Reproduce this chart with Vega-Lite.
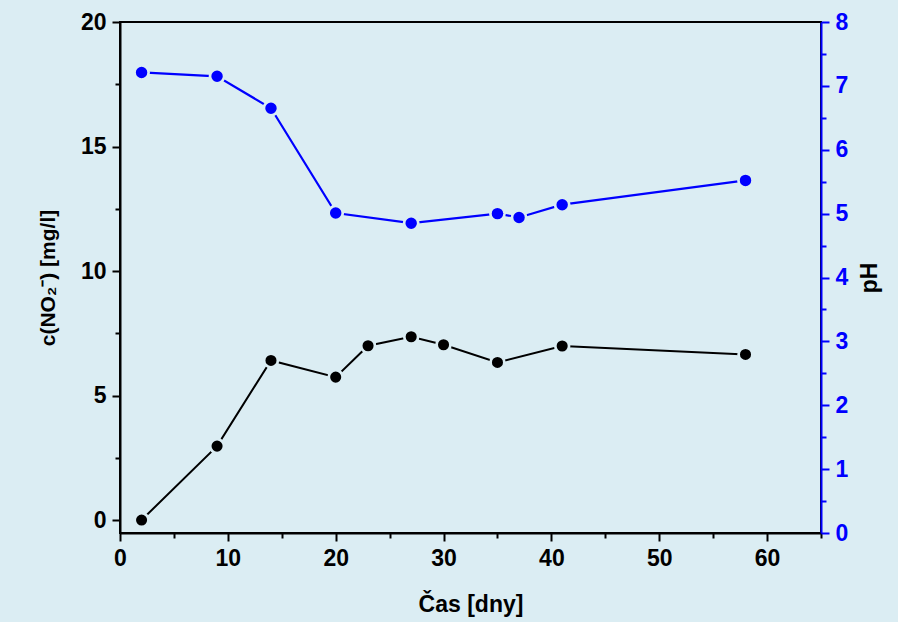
{
  "$schema": "https://vega.github.io/schema/vega-lite/v6.json",
  "width": 701,
  "height": 511,
  "autosize": {"type": "none"},
  "padding": {"left": 120, "top": 22, "right": 77, "bottom": 89},
  "background": "#dbedf3",
  "config": {
    "font": "Liberation Sans",
    "view": {"stroke": "black", "strokeWidth": 2},
    "axis": {
      "grid": false,
      "labelFont": "Liberation Sans",
      "labelFontWeight": "bold",
      "labelFontSize": 23,
      "titleFont": "Liberation Sans",
      "titleFontWeight": "bold",
      "titleFontSize": 23,
      "titleColor": "black",
      "domainWidth": 2,
      "tickWidth": 2,
      "labelOverlap": false,
      "labelFlush": false
    }
  },
  "data": {
    "values": [
      {"day": 2, "no2": 0.0, "ph": 7.21},
      {"day": 9, "no2": 2.97, "ph": 7.15},
      {"day": 14, "no2": 6.41, "ph": 6.65},
      {"day": 20, "no2": 5.74, "ph": 5.01},
      {"day": 23, "no2": 7.0, "ph": null},
      {"day": 27, "no2": 7.36, "ph": 4.85},
      {"day": 30, "no2": 7.04, "ph": null},
      {"day": 35, "no2": 6.33, "ph": 5.0},
      {"day": 37, "no2": null, "ph": 4.94},
      {"day": 41, "no2": 6.99, "ph": 5.14},
      {"day": 58, "no2": 6.65, "ph": 5.52}
    ]
  },
  "encoding": {
    "x": {
      "field": "day",
      "type": "quantitative",
      "scale": {"domain": [0, 65], "nice": false, "zero": false},
      "axis": {
        "title": "Čas [dny]",
        "format": ".0f",
        "values": [0, 5, 10, 15, 20, 25, 30, 35, 40, 45, 50, 55, 60, 65],
        "labelExpr": "datum.value % 10 === 0 ? datum.label : ''",
        "tickSize": {"condition": {"test": "datum.value % 10 === 0", "value": 8}, "value": 5},
        "domainColor": "black",
        "tickColor": "black",
        "labelColor": "black",
        "labelPadding": 6,
        "titlePadding": 23
      }
    }
  },
  "layer": [
    {
      "transform": [{"filter": "isValid(datum.no2)"}],
      "encoding": {
        "y": {
          "field": "no2",
          "type": "quantitative",
          "scale": {"domain": [-0.52, 20], "nice": false, "zero": false},
          "axis": {
            "title": "c(NO₂⁻) [mg/l]",
            "titleFontSize": 21,
            "orient": "left",
            "format": ".0f",
            "values": [0, 2.5, 5, 7.5, 10, 12.5, 15, 17.5, 20],
            "labelExpr": "datum.value % 5 === 0 ? datum.label : ''",
            "tickSize": {"condition": {"test": "datum.value % 5 === 0", "value": 8}, "value": 5},
            "domainColor": "black",
            "tickColor": "black",
            "labelColor": "black",
            "labelPadding": 6,
            "titlePadding": 22
          }
        }
      },
      "layer": [
        {"mark": {"type": "line", "color": "black", "strokeWidth": 2}},
        {"mark": {"type": "point", "filled": true, "fill": "black", "size": 190, "stroke": "#dbedf3", "strokeWidth": 2.7, "opacity": 1}}
      ]
    },
    {
      "transform": [{"filter": "isValid(datum.ph)"}],
      "encoding": {
        "y": {
          "field": "ph",
          "type": "quantitative",
          "scale": {"domain": [0, 8], "nice": false, "zero": false},
          "axis": {
            "title": "pH",
            "orient": "right",
            "titleAngle": -90,
            "titleBaseline": "top",
            "format": ".0f",
            "values": [0, 0.5, 1, 1.5, 2, 2.5, 3, 3.5, 4, 4.5, 5, 5.5, 6, 6.5, 7, 7.5, 8],
            "labelExpr": "datum.value % 1 === 0 ? datum.label : ''",
            "tickSize": {"condition": {"test": "datum.value % 1 === 0", "value": 8}, "value": 5},
            "domainColor": "#0000ff",
            "tickColor": "#0000ff",
            "labelColor": "#0000ff",
            "labelPadding": 6,
            "titlePadding": 11
          }
        }
      },
      "layer": [
        {"mark": {"type": "line", "color": "#0000ff", "strokeWidth": 2.2}},
        {"mark": {"type": "point", "filled": true, "fill": "#0000ff", "size": 200, "stroke": "#dbedf3", "strokeWidth": 2.7, "opacity": 1}}
      ]
    }
  ],
  "resolve": {"scale": {"y": "independent"}}
}
